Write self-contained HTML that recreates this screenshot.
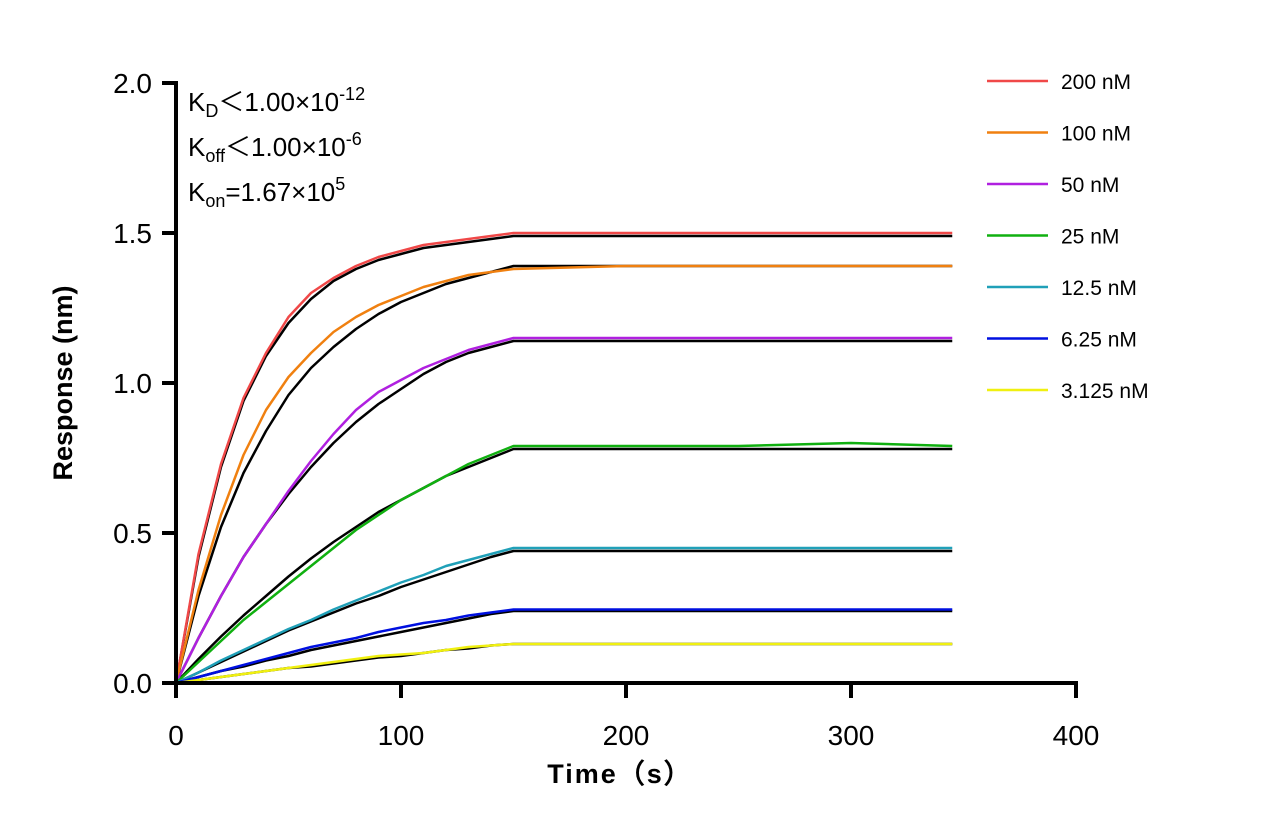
<!DOCTYPE html>
<html><head><meta charset="utf-8"><style>
body{margin:0;background:#fff;}
svg{display:block;font-family:"Liberation Sans",Arial,sans-serif;}
</style></head><body>
<svg id="chart" width="1265" height="836" viewBox="0 0 1265 836">
<g id="fits"></g>
<g id="series"></g>
<g id="axes"></g>
<g id="legend"></g>
<g font-size="26" fill="#000">
<text x="188" y="111">K<tspan font-size="18" dy="6">D</tspan><tspan dy="-6">＜1.00×10</tspan><tspan font-size="18" dy="-11">-12</tspan></text>
<text x="188" y="156">K<tspan font-size="18" dy="6">off</tspan><tspan dy="-6">＜1.00×10</tspan><tspan font-size="18" dy="-11">-6</tspan></text>
<text x="188" y="201">K<tspan font-size="18" dy="6">on</tspan><tspan dy="-6">=1.67×10</tspan><tspan font-size="18" dy="-11">5</tspan></text>
</g>
<text x="620" y="783" text-anchor="middle" font-size="27" font-weight="bold" letter-spacing="2">Time（s）</text>
<text transform="translate(72,383) rotate(-90)" text-anchor="middle" font-size="27" font-weight="bold">Response (nm)</text>
</svg>
<script>
const times=[0,10,20,30,40,50,60,70,80,90,100,110,120,130,140,150,200,250,300,345];
const seriesNames=["200 nM","100 nM","50 nM","25 nM","12.5 nM","6.25 nM","3.125 nM"];
const seriesColors=["#f04848","#f08010","#b020e0","#10b010","#20a0b8","#0010e0","#f0f010"];
const s200=[0,0.43,0.73,0.95,1.10,1.22,1.30,1.35,1.39,1.42,1.44,1.46,1.47,1.48,1.49,1.50,1.50,1.50,1.50,1.50];
const s100=[0,0.31,0.56,0.76,0.91,1.02,1.10,1.17,1.22,1.26,1.29,1.32,1.34,1.36,1.37,1.38,1.39,1.39,1.39,1.39];
const s50=[0,0.15,0.29,0.42,0.53,0.64,0.74,0.83,0.91,0.97,1.01,1.05,1.08,1.11,1.13,1.15,1.15,1.15,1.15,1.15];
const s25=[0,0.07,0.14,0.21,0.27,0.33,0.39,0.45,0.51,0.56,0.61,0.65,0.69,0.73,0.76,0.79,0.79,0.79,0.80,0.79];
const s12=[0,0.035,0.075,0.11,0.145,0.18,0.21,0.245,0.275,0.305,0.335,0.36,0.39,0.41,0.43,0.45,0.45,0.45,0.45,0.45];
const s6=[0,0.02,0.04,0.06,0.08,0.10,0.12,0.135,0.15,0.17,0.185,0.20,0.21,0.225,0.235,0.245,0.245,0.245,0.245,0.245];
const s3=[0,0.01,0.02,0.03,0.04,0.05,0.06,0.07,0.08,0.09,0.095,0.10,0.11,0.12,0.125,0.13,0.13,0.13,0.13,0.13];
const f200=[0,0.42,0.72,0.94,1.09,1.20,1.28,1.34,1.38,1.41,1.43,1.45,1.46,1.47,1.48,1.49,1.49,1.49,1.49,1.49];
const f100=[0,0.29,0.52,0.70,0.84,0.96,1.05,1.12,1.18,1.23,1.27,1.30,1.33,1.35,1.37,1.39,1.39,1.39,1.39,1.39];
const f50=[0,0.15,0.29,0.42,0.53,0.63,0.72,0.80,0.87,0.93,0.98,1.03,1.07,1.10,1.12,1.14,1.14,1.14,1.14,1.14];
const f25=[0,0.08,0.155,0.225,0.29,0.355,0.415,0.47,0.52,0.57,0.61,0.65,0.69,0.72,0.75,0.78,0.78,0.78,0.78,0.78];
const f12=[0,0.035,0.07,0.105,0.14,0.175,0.205,0.235,0.265,0.29,0.32,0.345,0.37,0.395,0.42,0.44,0.44,0.44,0.44,0.44];
const f6=[0,0.02,0.04,0.055,0.075,0.09,0.11,0.125,0.14,0.155,0.17,0.185,0.20,0.215,0.23,0.24,0.24,0.24,0.24,0.24];
const f3=[0,0.01,0.02,0.03,0.04,0.05,0.055,0.065,0.075,0.085,0.09,0.10,0.11,0.115,0.125,0.13,0.13,0.13,0.13,0.13];
const xTicks=[0,100,200,300,400];
const yTicks=[0.0,0.5,1.0,1.5,2.0];
const NS="http://www.w3.org/2000/svg";
const X=t=>176+t*2.25;
const Y=v=>683-v*300;
function mk(tag,attrs,parent){const e=document.createElementNS(NS,tag);for(const k in attrs)e.setAttribute(k,attrs[k]);parent.appendChild(e);return e;}
const data=[s200,s100,s50,s25,s12,s6,s3];
const fits=[f200,f100,f50,f25,f12,f6,f3];
const gS=document.getElementById('series'),gF=document.getElementById('fits'),gA=document.getElementById('axes'),gL=document.getElementById('legend');
data.forEach((arr,i)=>{
 const p=mk('polyline',{points:times.map((t,j)=>X(t)+','+Y(arr[j])).join(' '),fill:'none',stroke:seriesColors[i],'stroke-width':2.5,'stroke-linejoin':'round'},gS);
 
 
});
fits.forEach((arr,i)=>{
 const p=mk('polyline',{points:times.map((t,j)=>X(t)+','+Y(arr[j])).join(' '),fill:'none',stroke:'#000','stroke-width':2.5,'stroke-linejoin':'round'},gF);
 
 
});
const ax=mk('line',{x1:176,y1:81,x2:176,y2:685,stroke:'#000','stroke-width':4},gA);


const axx=mk('line',{x1:174,y1:683,x2:1078,y2:683,stroke:'#000','stroke-width':4},gA);


yTicks.forEach(v=>{
 const l=mk('line',{x1:162,y1:Y(v),x2:176,y2:Y(v),stroke:'#000','stroke-width':4},gA);
 
 
 const t=mk('text',{x:152,y:Y(v)+10,'text-anchor':'end','font-size':28},gA);
 t.textContent=v.toFixed(1);
 
 
});
xTicks.forEach(v=>{
 const l=mk('line',{x1:X(v),y1:683,x2:X(v),y2:698,stroke:'#000','stroke-width':4},gA);
 
 
 const t=mk('text',{x:X(v),y:745,'text-anchor':'middle','font-size':28},gA);
 t.textContent=v;
 
 
});
seriesNames.forEach((n,i)=>{
 const y=81+i*51.5;
 const g=mk('g',{},gL);
 
 
 mk('line',{x1:987,y1:y,x2:1048,y2:y,stroke:seriesColors[i],'stroke-width':2.5},g);
 const t=mk('text',{x:1061,y:y+8,'font-size':21},g);
 t.textContent=n;
});
</script>
</body></html>
